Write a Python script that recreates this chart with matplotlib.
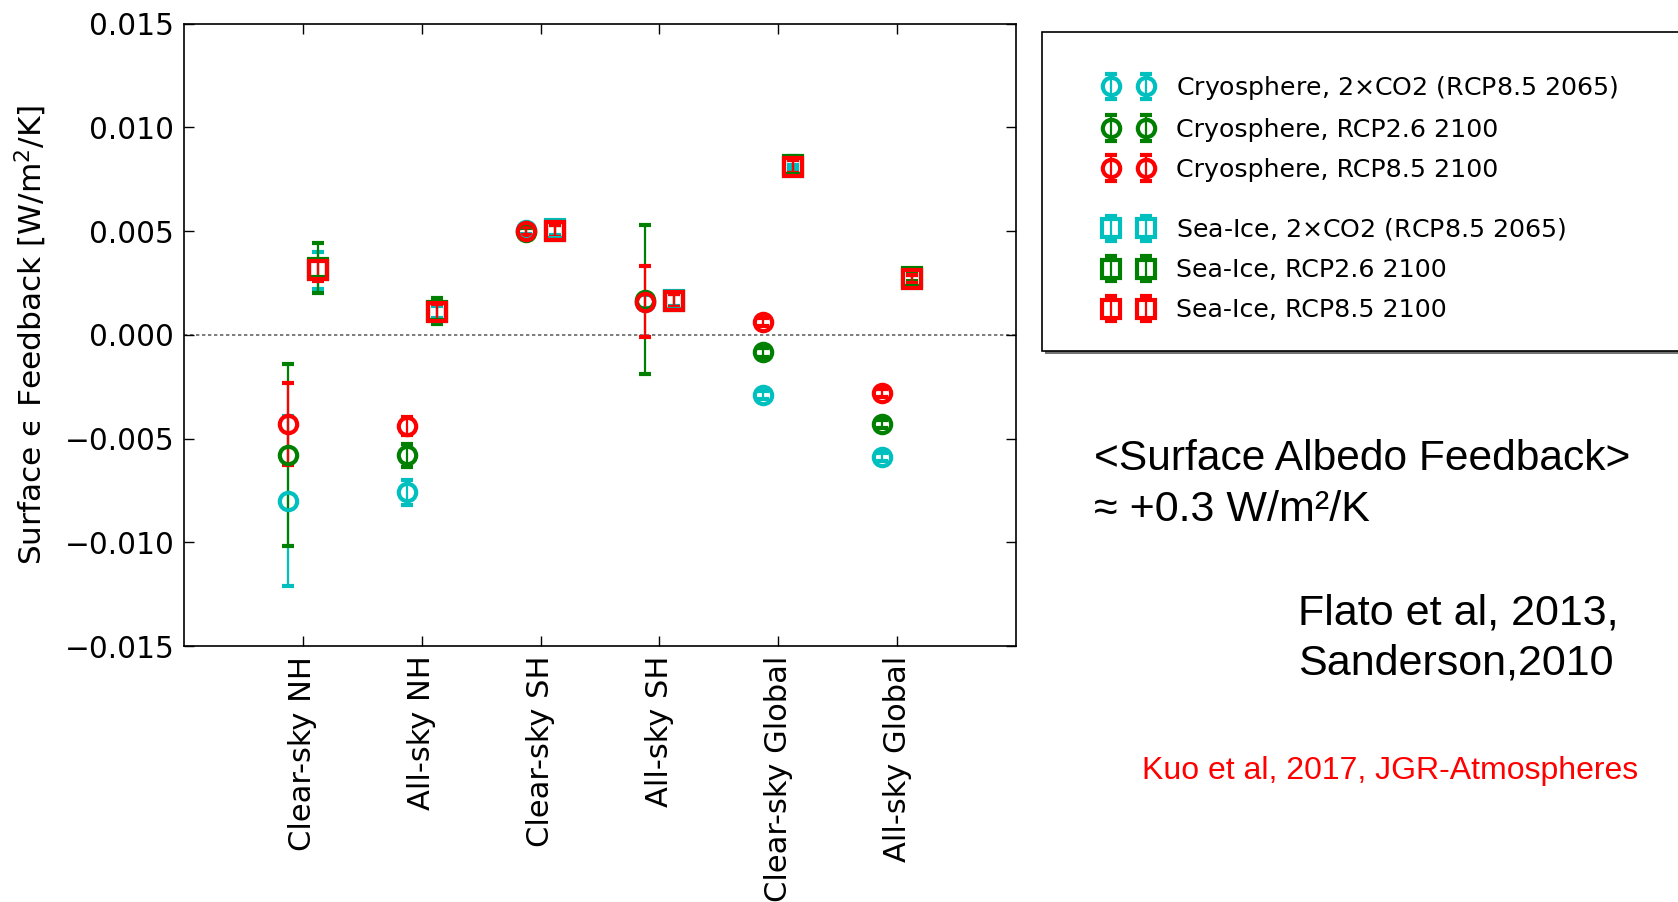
import matplotlib
matplotlib.use("Agg")
import matplotlib.pyplot as plt
from matplotlib.patches import Rectangle
import numpy as np

# ---- data -------------------------------------------------------------
categories = ["Clear-sky NH", "All-sky NH", "Clear-sky SH",
              "All-sky SH", "Clear-sky Global", "All-sky Global"]

cryo_2xco2 = [-0.0080, -0.0076, 0.00505, 0.0016, -0.0029, -0.0059]
cryo_2xco2_err = [0.0041, 0.0006, 0.0002, 0.0003, 0.0002, 0.0002]
cryo_rcp26 = [-0.0058, -0.0058, 0.00495, 0.0017, -0.00085, -0.0043]
cryo_rcp26_err = [0.0044, 0.00055, 0.0002, 0.0036, 0.0002, 0.0002]
cryo_rcp85 = [-0.0043, -0.0044, 0.0050, 0.0016, 0.0006, -0.0028]
cryo_rcp85_err = [0.0020, 0.00045, 0.0002, 0.0017, 0.0002, 0.0002]

seaice_2xco2 = [0.0031, 0.0011, 0.0051, 0.0017, 0.0081, 0.0027]
seaice_2xco2_err = [0.0009, 0.0003, 0.0003, 0.0003, 0.0001, 0.0002]
seaice_rcp26 = [0.0032, 0.00114, 0.0050, 0.00165, 0.0082, 0.0028]
seaice_rcp26_err = [0.0012, 0.00063, 0.0003, 0.0003, 0.0004, 0.0002]
seaice_rcp85 = [0.0031, 0.0011, 0.0050, 0.00165, 0.0081, 0.0027]
seaice_rcp85_err = [0.0005, 0.0004, 0.00027, 0.0003, 0.0003, 0.0002]

cryo_labels = [r"Cryosphere, 2$\times$CO2 (RCP8.5 2065)",
               "Cryosphere, RCP2.6 2100",
               "Cryosphere, RCP8.5 2100"]
seaice_labels = [r"Sea-Ice, 2$\times$CO2 (RCP8.5 2065)",
                 "Sea-Ice, RCP2.6 2100",
                 "Sea-Ice, RCP8.5 2100"]

colors = [(0.0, 0.75, 0.75), (0.0, 0.5, 0.0), (1.0, 0.0, 0.0)]

# ---- figure -----------------------------------------------------------
fig = plt.figure(figsize=(16.78, 9.02), dpi=100)
ax = fig.add_axes([0.1097, 0.2838, 0.4958, 0.6901])

x = np.arange(1, len(categories) + 1)
offset = 0.125
style = dict(ms=12.5, mew=3, elinewidth=1.6, capsize=4, capthick=2.5)

cryo_series = [(cryo_2xco2, cryo_2xco2_err), (cryo_rcp26, cryo_rcp26_err),
               (cryo_rcp85, cryo_rcp85_err)]
seaice_series = [(seaice_2xco2, seaice_2xco2_err), (seaice_rcp26, seaice_rcp26_err),
                 (seaice_rcp85, seaice_rcp85_err)]

cryo_handles = []
for (vals, errs), c, lab in zip(cryo_series, colors, cryo_labels):
    h = ax.errorbar(x - offset, vals, yerr=errs, fmt="o", color=c, mec=c,
                    mfc="none", label=lab, **style)
    cryo_handles.append(h)

seaice_handles = []
for (vals, errs), c, lab in zip(seaice_series, colors, seaice_labels):
    h = ax.errorbar(x + offset, vals, yerr=errs, fmt="s", color=c, mec=c,
                    mfc="none", label=lab, **style)
    seaice_handles.append(h)

ax.axhline(0, color="0.4", lw=1.2, dashes=(2, 1.6), zorder=0)

ax.set_xlim(0, 7)
ax.set_ylim(-0.015, 0.015)
ax.set_yticks(np.arange(-0.015, 0.0151, 0.005))
ax.set_xticks(x)
ax.set_xticklabels(categories, rotation=90)
ax.tick_params(direction="in", length=7, width=1, top=True, right=True, pad=7)
ax.tick_params(axis="x", labelsize=22)
ax.tick_params(axis="y", labelsize=21.3)
for s in ax.spines.values():
    s.set_linewidth(1.2)

ax.set_ylabel("Surface \u03f5 Feedback [W/m$^2$/K]", fontsize=22.5)
ax.yaxis.set_label_coords(-0.162, 0.5)

# ---- legend box with shadow --------------------------------------------
bx0, by0, bw, bh = 0.6207, 0.6109, 0.45, 0.3536
px = 1.0 / 1678
py = 1.0 / 902
fig.patches.append(Rectangle((bx0 + 3 * px, by0 - 3 * py), bw, bh,
                             transform=fig.transFigure, facecolor="0.45",
                             edgecolor="none", zorder=1))
fig.patches.append(Rectangle((bx0, by0), bw, bh, transform=fig.transFigure,
                             facecolor="white", edgecolor="black", lw=1.2,
                             zorder=2))

leg_kw = dict(loc="upper left", numpoints=2, frameon=False, fontsize=18.2,
              borderpad=0, borderaxespad=0, handlelength=2.0,
              handletextpad=0.85, labelspacing=0.63)
leg1 = fig.legend(handles=cryo_handles, labels=cryo_labels,
                  bbox_to_anchor=(1103.5 / 1678, 1 - 74 / 902), **leg_kw)
leg2 = fig.legend(handles=seaice_handles, labels=seaice_labels,
                  bbox_to_anchor=(1103.5 / 1678, 1 - 216.5 / 902), **leg_kw)
leg1.set_zorder(5)
leg2.set_zorder(5)

# ---- annotations --------------------------------------------------------
sans = ["Liberation Sans", "DejaVu Sans"]
fig.text(1094 / 1678, 1 - 459 / 902, "<Surface Albedo Feedback>",
         fontsize=30.6, family=sans, va="center", ha="left")
fig.text(1094 / 1678, 1 - 510 / 902, "\u2248 +0.3 W/m\u00b2/K",
         fontsize=31, family=sans, va="center", ha="left")
fig.text(1298 / 1678, 1 - 613 / 902, "Flato et al, 2013,",
         fontsize=31, family=sans, va="center", ha="left")
fig.text(1298 / 1678, 1 - 664 / 902, "Sanderson,2010",
         fontsize=31, family=sans, va="center", ha="left")
fig.text(1142 / 1678, 1 - 771 / 902, "Kuo et al, 2017, JGR-Atmospheres",
         fontsize=23, family=sans, color="red", va="center", ha="left")

fig.savefig("out.png", dpi=100)
